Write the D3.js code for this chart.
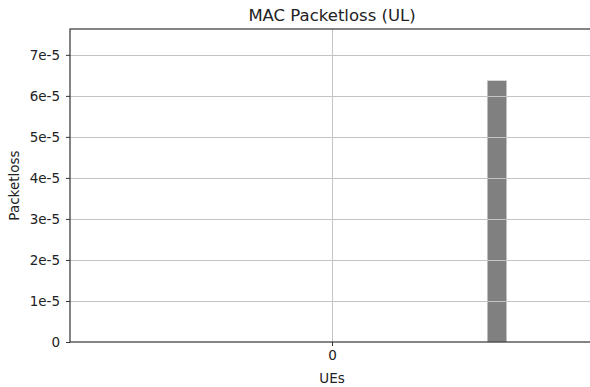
<!DOCTYPE html>
<html>
<head>
<meta charset="utf-8">
<script src="https://cdn.jsdelivr.net/npm/d3@7"></script>
<style>
  html, body { margin: 0; padding: 0; background: #fff; }
  svg { display: block; font-family: "DejaVu Sans", sans-serif; }
</style>
</head>
<body>
<svg id="chart" width="590" height="387"></svg>
<script>
// UE indices on the x axis and the uplink MAC packet loss per UE
const ues = [0];
const packetLoss = [6.37e-5];
const yTicks = [0, 1e-5, 2e-5, 3e-5, 4e-5, 5e-5, 6e-5, 7e-5];
const yTickLabels = ["0", "1e-5", "2e-5", "3e-5", "4e-5", "5e-5", "6e-5", "7e-5"];

// layout
const W = 590, H = 387;
const plot = { left: 70, right: 594, top: 29, bottom: 342 };
const barOffset = 0.5;   // bar sits to the right of its UE tick
const barWidth = 0.059;

const svg = d3.select("#chart");

const x = d3.scaleLinear().domain([-0.794, 0.794]).range([plot.left, plot.right]);
const y = d3.scaleLinear().domain([0, 7.63e-5]).range([plot.bottom, plot.top]);

// bars
svg.append("g")
  .selectAll("rect")
  .data(ues.map((u, i) => ({ u, v: packetLoss[i] })))
  .join("rect")
  .attr("x", d => x(d.u + barOffset - barWidth / 2))
  .attr("width", d => x(d.u + barOffset + barWidth / 2) - x(d.u + barOffset - barWidth / 2))
  .attr("y", d => y(d.v))
  .attr("height", d => y(0) - y(d.v))
  .attr("fill", "#808080")
  .attr("stroke", "#d8d8d8")
  .attr("stroke-width", 0.6);

// grid drawn above the bars
const grid = svg.append("g").attr("stroke", "#c4c4c4").attr("stroke-width", 1);
grid.selectAll("line.h")
  .data(yTicks.slice(1))
  .join("line")
  .attr("class", "h")
  .attr("x1", plot.left).attr("x2", plot.right)
  .attr("y1", d => Math.round(y(d)) + 0.5).attr("y2", d => Math.round(y(d)) + 0.5);
grid.selectAll("line.v")
  .data(ues)
  .join("line")
  .attr("class", "v")
  .attr("x1", d => Math.round(x(d)) + 0.5).attr("x2", d => Math.round(x(d)) + 0.5)
  .attr("y1", plot.top).attr("y2", plot.bottom);

// axes
const yAxis = d3.axisLeft(y)
  .tickValues(yTicks)
  .tickFormat((d, i) => yTickLabels[i])
  .tickSize(4)
  .tickPadding(6);
const xAxis = d3.axisBottom(x)
  .tickValues(ues)
  .tickFormat(d => String(d))
  .tickSize(4)
  .tickPadding(4);

const gy = svg.append("g")
  .attr("transform", `translate(${plot.left},0)`)
  .call(yAxis);
const gx = svg.append("g")
  .attr("transform", `translate(0,${plot.bottom})`)
  .call(xAxis);

[gx, gy].forEach(g => {
  g.select(".domain").remove();
  g.selectAll(".tick line").attr("stroke", "#333");
  g.selectAll(".tick text")
    .attr("fill", "#222")
    .style("font-size", "13.5px")
    .style("font-family", "DejaVu Sans, sans-serif");
});

// frame
const frame = svg.append("g").attr("stroke", "#333").attr("stroke-width", 1.2).attr("fill", "none");
frame.append("rect")
  .attr("x", plot.left).attr("y", plot.top)
  .attr("width", plot.right - plot.left).attr("height", plot.bottom - plot.top);

// title and axis labels
const cx = (plot.left + plot.right) / 2;
svg.append("text")
  .attr("x", cx).attr("y", 21)
  .attr("text-anchor", "middle")
  .attr("fill", "#222")
  .style("font-size", "16.5px")
  .text("MAC Packetloss (UL)");

svg.append("text")
  .attr("x", cx).attr("y", 383)
  .attr("text-anchor", "middle")
  .attr("fill", "#222")
  .style("font-size", "13.5px")
  .text("UEs");

svg.append("text")
  .attr("transform", `translate(19,${(plot.top + plot.bottom) / 2}) rotate(-90)`)
  .attr("text-anchor", "middle")
  .attr("fill", "#222")
  .style("font-size", "13.5px")
  .text("Packetloss");
</script>
</body>
</html>
